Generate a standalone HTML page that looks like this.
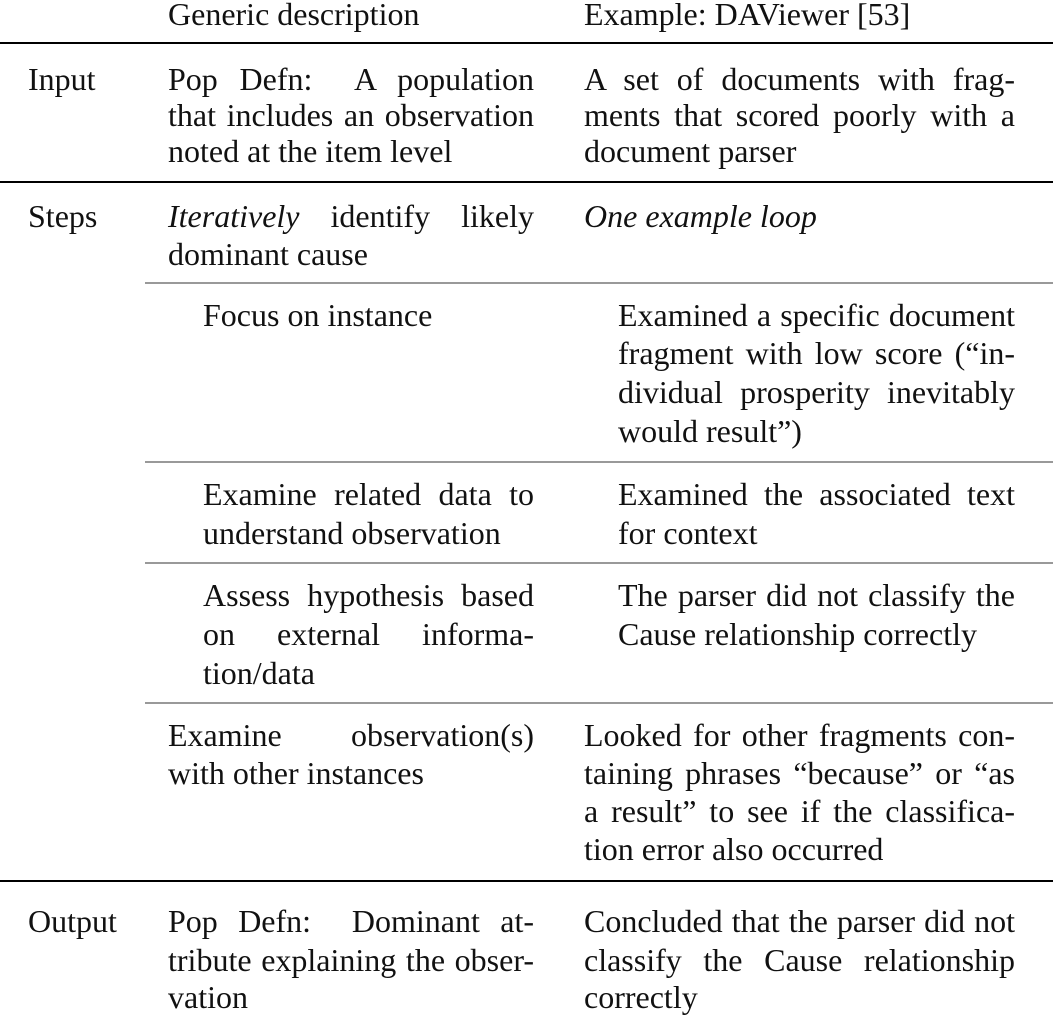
<!DOCTYPE html>
<html><head><meta charset="utf-8">
<style>
body{margin:0;background:#fff;width:1053px;height:1016px;position:relative;overflow:hidden;font-family:"Liberation Serif",serif;font-size:32px;color:#111}
.l{position:absolute;height:36px;line-height:36px;white-space:nowrap}
.j{text-align:justify;text-align-last:justify;white-space:normal;word-spacing:-5px}
.r{position:absolute;left:0;width:1053px;background:#000}
.g{position:absolute;left:145px;width:908px;height:2px;background:#999}
i{font-style:italic}
</style></head><body>
<div class="r" style="top:42px;height:2px"></div>
<div class="r" style="top:181px;height:2px"></div>
<div class="g" style="top:282px"></div>
<div class="g" style="top:461px"></div>
<div class="g" style="top:562px"></div>
<div class="g" style="top:702px"></div>
<div class="r" style="top:880px;height:2px"></div>

<div class="l" style="left:168px;top:-4px">Generic description</div>
<div class="l" style="left:584px;top:-4px">Example: DAViewer [53]</div>

<div class="l" style="left:28px;top:61px">Input</div>
<div class="l j" style="left:168px;top:61px;width:366px">Pop Defn:&nbsp; A population</div>
<div class="l j" style="left:168px;top:97px;width:366px">that includes an observation</div>
<div class="l" style="left:168px;top:133px">noted at the item level</div>
<div class="l j" style="left:584px;top:61px;width:431px">A set of documents with frag-</div>
<div class="l j" style="left:584px;top:97px;width:431px">ments that scored poorly with a</div>
<div class="l" style="left:584px;top:133px">document parser</div>

<div class="l" style="left:28px;top:198px">Steps</div>
<div class="l j" style="left:168px;top:198px;width:366px"><i>Iteratively</i> identify likely</div>
<div class="l" style="left:168px;top:236px">dominant cause</div>
<div class="l" style="left:584px;top:198px"><i>One example loop</i></div>

<div class="l" style="left:203px;top:297px">Focus on instance</div>
<div class="l j" style="left:618px;top:297px;width:397px">Examined a specific document</div>
<div class="l j" style="left:618px;top:335px;width:397px">fragment with low score (“in-</div>
<div class="l j" style="left:618px;top:374px;width:397px">dividual prosperity inevitably</div>
<div class="l" style="left:618px;top:413px">would result”)</div>

<div class="l j" style="left:203px;top:476px;width:331px">Examine related data to</div>
<div class="l" style="left:203px;top:515px">understand observation</div>
<div class="l j" style="left:618px;top:476px;width:397px">Examined the associated text</div>
<div class="l" style="left:618px;top:515px">for context</div>

<div class="l j" style="left:203px;top:577px;width:331px">Assess hypothesis based</div>
<div class="l j" style="left:203px;top:616px;width:331px">on external informa-</div>
<div class="l" style="left:203px;top:655px">tion/data</div>
<div class="l j" style="left:618px;top:577px;width:397px">The parser did not classify the</div>
<div class="l" style="left:618px;top:616px">Cause relationship correctly</div>

<div class="l j" style="left:168px;top:717px;width:366px">Examine observation(s)</div>
<div class="l" style="left:168px;top:755px">with other instances</div>
<div class="l j" style="left:584px;top:717px;width:431px">Looked for other fragments con-</div>
<div class="l j" style="left:584px;top:755px;width:431px">taining phrases “because” or “as</div>
<div class="l j" style="left:584px;top:793px;width:431px">a result” to see if the classifica-</div>
<div class="l" style="left:584px;top:831px">tion error also occurred</div>

<div class="l" style="left:28px;top:903px">Output</div>
<div class="l j" style="left:168px;top:903px;width:366px">Pop Defn:&nbsp; Dominant at-</div>
<div class="l j" style="left:168px;top:942px;width:366px">tribute explaining the obser-</div>
<div class="l" style="left:168px;top:979px">vation</div>
<div class="l j" style="left:584px;top:903px;width:431px">Concluded that the parser did not</div>
<div class="l j" style="left:584px;top:942px;width:431px">classify the Cause relationship</div>
<div class="l" style="left:584px;top:979px">correctly</div>
</body></html>
